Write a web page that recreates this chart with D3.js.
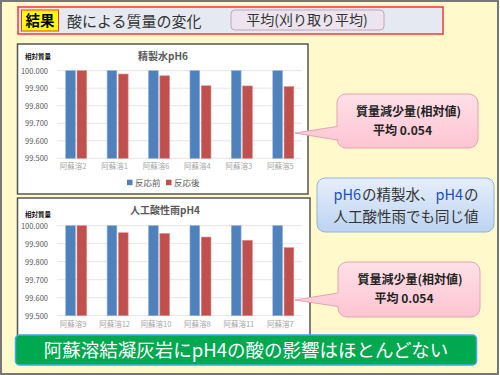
<!DOCTYPE html>
<html>
<head>
<meta charset="utf-8">
<script src="https://cdn.jsdelivr.net/npm/d3@7"></script>
<style>
  body { margin: 0; background: #fff; }
  svg { display: block; font-family: 'Noto Sans CJK JP', 'Noto Sans', sans-serif; }
</style>
</head>
<body>
<script>
// data
const seriesNames = ['反応前', '反応後'];
const seriesColors = ['#4F81BD', '#C0504D'];
const yTicks = [99.5, 99.6, 99.7, 99.8, 99.9, 100.0];

const cats1 = ['阿蘇溶2', '阿蘇溶1', '阿蘇溶6', '阿蘇溶4', '阿蘇溶3', '阿蘇溶5'];
const before1 = [100, 100, 100, 100, 100, 100];
const after1 = [100.0, 99.981, 99.971, 99.914, 99.913, 99.909];

const cats2 = ['阿蘇溶9', '阿蘇溶12', '阿蘇溶10', '阿蘇溶8', '阿蘇溶11', '阿蘇溶7'];
const before2 = [100, 100, 100, 100, 100, 100];
const after2 = [100.0, 99.961, 99.957, 99.937, 99.919, 99.878];

const W = 500, H = 375;
const svg = d3.select('body').append('svg').attr('width', W).attr('height', H);
const defs = svg.append('defs');

function grad(id, c1, c2) {
  const g = defs.append('linearGradient').attr('id', id)
    .attr('x1', 0).attr('y1', 0).attr('x2', 0).attr('y2', 1);
  g.append('stop').attr('offset', '0%').attr('stop-color', c1);
  g.append('stop').attr('offset', '100%').attr('stop-color', c2);
}
grad('pink', '#FFE0E8', '#FFC4D2');
grad('blue', '#E6EFFB', '#BDD3F2');

// several coloured pieces on one line, centred on cx, as separate texts
function runLine(cx, y, size, weight, parts) {
  const gap = 1;
  const nodes = parts.map(p => svg.append('text').attr('y', y)
    .style('font-size', size).style('font-weight', weight)
    .attr('fill', p[1]).text(p[0]));
  const widths = nodes.map(n => n.node().getComputedTextLength());
  let xx = cx - (d3.sum(widths) + gap * (parts.length - 1)) / 2;
  nodes.forEach((n, i) => { n.attr('x', xx); xx += widths[i] + gap; });
}

// slide background
svg.append('rect')
  .attr('x', 1).attr('y', 1).attr('width', W - 3).attr('height', H - 2)
  .attr('fill', '#FFF9CC').attr('stroke', '#777').attr('stroke-width', 2);

// header bar
svg.append('rect')
  .attr('x', 18).attr('y', 7).attr('width', 425).attr('height', 27)
  .attr('fill', '#E5E9F1').attr('stroke', '#FF3333').attr('stroke-width', 1.5);
svg.append('rect')
  .attr('x', 21.5).attr('y', 10).attr('width', 37).attr('height', 21)
  .attr('fill', '#FFFF00').attr('stroke', '#FF3333').attr('stroke-width', 1);
svg.append('text').attr('x', 40).attr('y', 26).attr('text-anchor', 'middle')
  .style('font-size', '14.5px').style('font-weight', 'bold').attr('fill', '#000').text('結果');
svg.append('text').attr('x', 67).attr('y', 26.5)
  .style('font-size', '15px').attr('fill', '#333').text('酸による質量の変化');
svg.append('rect')
  .attr('x', 231).attr('y', 10).attr('width', 153).attr('height', 20).attr('rx', 4)
  .attr('fill', '#ECE4EE').attr('stroke', '#C4A4B8').attr('stroke-width', 1);
svg.append('text').attr('x', 307).attr('y', 25).attr('text-anchor', 'middle')
  .style('font-size', '14px').attr('fill', '#333').text('平均(刈り取り平均)');

function drawChart(o) {
  svg.append('rect')
    .attr('x', o.box[0]).attr('y', o.box[1]).attr('width', o.box[2]).attr('height', o.box[3])
    .attr('fill', '#fff').attr('stroke', '#555').attr('stroke-width', 1.5);

  const x = d3.scaleBand().domain(o.cats).range([52.5, 301]);
  const groupW = 21;
  const x1 = d3.scaleBand().domain(seriesNames).range([0, groupW]).paddingInner(0.14);
  const y = d3.scaleLinear().domain([99.5, 100]).range(o.yRange);

  const g = svg.append('g');
  g.selectAll('line.grid').data(yTicks).enter().append('line')
    .attr('x1', 57).attr('x2', 302)
    .attr('y1', d => y(d)).attr('y2', d => y(d))
    .attr('stroke', '#E6E6E6').attr('stroke-width', 1);

  g.selectAll('text.ytick').data(yTicks).enter().append('text')
    .attr('x', 48).attr('y', d => y(d) + 3)
    .attr('text-anchor', 'end')
    .style('font-size', '7.5px').attr('fill', '#595959')
    .text(d => d3.format('.3f')(d));

  const rows = o.cats.map((c, i) => ({ cat: c, vals: [o.before[i], o.after[i]] }));
  const grp = g.selectAll('g.cat').data(rows).enter().append('g')
    .attr('transform', d => `translate(${x(d.cat) + (x.bandwidth() - groupW) / 2 + 3},0)`);
  grp.selectAll('rect').data(d => d.vals.map((v, k) => ({ s: seriesNames[k], v, k })))
    .enter().append('rect')
    .attr('x', d => x1(d.s))
    .attr('width', x1.bandwidth())
    .attr('y', d => y(d.v))
    .attr('height', d => y(99.5) - y(d.v))
    .attr('fill', d => seriesColors[d.k])
    .attr('stroke', d => d.k === 0 ? '#8FB0DA' : '#DD8C8A').attr('stroke-width', 0.6);

  g.selectAll('text.xtick').data(o.cats).enter().append('text')
    .attr('x', d => x(d) + x.bandwidth() / 2)
    .attr('y', o.xLabelY)
    .attr('text-anchor', 'middle')
    .style('font-size', '7.5px').attr('fill', '#A6A6A6')
    .text(d => d);

  g.append('text').attr('x', o.titleX).attr('y', o.titleY).attr('text-anchor', 'middle')
    .style('font-size', '10px').style('font-weight', 'bold').attr('fill', '#595959').text(o.title);
  g.append('text').attr('x', 25).attr('y', o.unitY)
    .style('font-size', '6.5px').style('font-weight', 'bold').attr('fill', '#111').text('相対質量');

  if (o.legendY) {
    const lx = [130, 169];
    seriesNames.forEach((s, k) => {
      g.append('rect').attr('x', lx[k] - 3).attr('y', o.legendY - 3).attr('width', 5.5).attr('height', 5.5)
        .attr('fill', seriesColors[k]);
      g.append('text').attr('x', lx[k] + 5).attr('y', o.legendY + 3)
        .style('font-size', '8.5px').attr('fill', '#595959').text(s);
    });
  }
}

drawChart({
  box: [17.5, 44, 290.5, 150], cats: cats1, before: before1, after: after1,
  yRange: [158.3, 70.7], xLabelY: 169, title: '精製水pH6', titleX: 163, titleY: 60,
  unitY: 58.5, legendY: 182.7
});
drawChart({
  box: [17.5, 198, 292.5, 160], cats: cats2, before: before2, after: after2,
  yRange: [315.7, 225.7], xLabelY: 326.5, title: '人工酸性雨pH4', titleX: 165, titleY: 213.5,
  unitY: 216.5, legendY: null
});

// pink callouts
function callout(bx, by, bw, bh, tip, base0, base1, lines) {
  const r = 9;
  const p = d3.path();
  p.moveTo(bx + r, by);
  p.lineTo(bx + bw - r, by);
  p.arcTo(bx + bw, by, bx + bw, by + r, r);
  p.lineTo(bx + bw, by + bh - r);
  p.arcTo(bx + bw, by + bh, bx + bw - r, by + bh, r);
  p.lineTo(bx + r, by + bh);
  p.arcTo(bx, by + bh, bx, by + bh - r, r);
  p.lineTo(bx, base1);
  p.lineTo(tip[0], tip[1]);
  p.lineTo(bx, base0);
  p.lineTo(bx, by + r);
  p.arcTo(bx, by, bx + r, by, r);
  p.closePath();
  svg.append('path').attr('d', p.toString())
    .attr('fill', 'url(#pink)').attr('stroke', '#E7A3B3').attr('stroke-width', 1);
  const cx = bx + bw / 2 + 1;
  svg.append('text').attr('x', cx).attr('y', by + 22).attr('text-anchor', 'middle')
    .style('font-size', '12px').style('font-weight', 'bold').attr('fill', '#222').text(lines[0]);
  svg.append('text').attr('x', cx - 6).attr('y', by + 40.5).attr('text-anchor', 'middle')
    .style('font-size', '12px').style('font-weight', 'bold').attr('fill', '#222')
    .text('平均 ' + lines[1]);
}
callout(337, 94, 141, 54, [295, 133], 126.5, 140, ['質量減少量(相対値)', '0.054']);
callout(338, 262, 142, 55, [295, 300], 293, 306.5, ['質量減少量(相対値)', '0.054']);

// blue note
svg.append('rect').attr('x', 317).attr('y', 178).attr('width', 177).attr('height', 54).attr('rx', 8)
  .attr('fill', 'url(#blue)').attr('stroke', '#92B4E0').attr('stroke-width', 1);
runLine(406, 200, '14.5px', 'normal',
  [['pH6', '#1F4FB8'], ['の精製水、', '#333'], ['pH4', '#1F4FB8'], ['の', '#333']]);
svg.append('text').attr('x', 406).attr('y', 221.5).attr('text-anchor', 'middle')
  .style('font-size', '14.5px').attr('fill', '#333').text('人工酸性雨でも同じ値');

// green banner
svg.append('rect').attr('x', 15.5).attr('y', 335).attr('width', 461).attr('height', 30).attr('rx', 4)
  .attr('fill', '#00A84F').attr('stroke', '#3FA9F5').attr('stroke-width', 1.5);
svg.append('text').attr('x', 246).attr('y', 357).attr('text-anchor', 'middle')
  .style('font-size', '18.5px').attr('fill', '#fff').text('阿蘇溶結凝灰岩にpH4の酸の影響はほとんどない');
</script>
</body>
</html>
